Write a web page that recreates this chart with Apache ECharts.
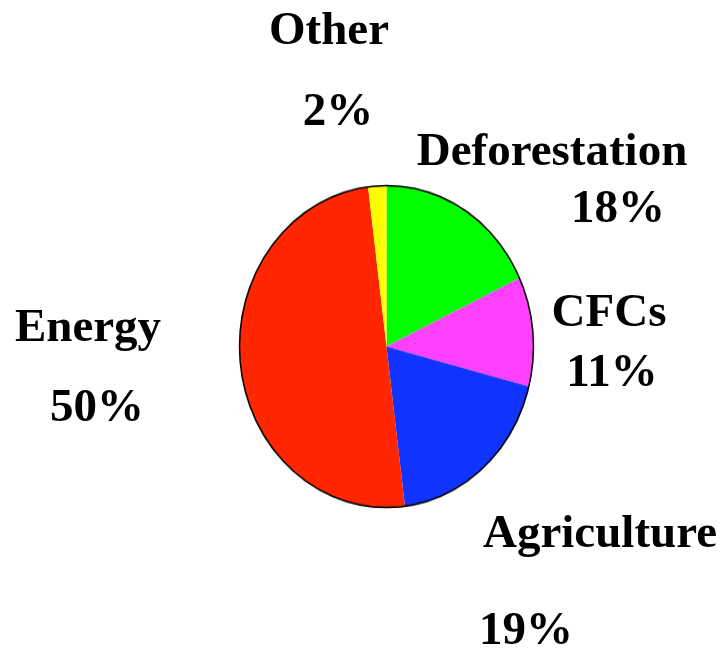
<!DOCTYPE html>
<html>
<head>
<meta charset="utf-8">
<script src="https://cdn.jsdelivr.net/npm/echarts@6/dist/echarts.min.js"></script>
<style>
  html, body { margin: 0; padding: 0; background: #fff; }
  #wrap { position: relative; width: 725px; height: 652px; overflow: hidden; }
  #pie { position: absolute; left: 0; top: 0; width: 725px; height: 652px;
         transform: scaleY(1.095); transform-origin: 386.5px 346.5px; }
  #txt { position: absolute; left: 0; top: 0; width: 725px; height: 652px; }
</style>
</head>
<body>
<div id="wrap">
  <div id="pie"></div>
  <div id="txt"></div>
</div>
<script>
// Data (clockwise from 12 o'clock)
const categories = ['Deforestation', 'CFCs', 'Agriculture', 'Energy', 'Other'];
const values = [18, 11, 19, 50, 2];
const colors = ['#00ff00', '#ff40ff', '#1133ff', '#ff2600', '#ffff00'];

// Label layout (screen centres of name line and percent line), per category
const labelLayout = [
  { name: [552, 153], pct: [618, 210] },
  { name: [609, 314], pct: [612, 374] },
  { name: [600, 535], pct: [526, 632] },
  { name: [88, 329],  pct: [97, 409] },
  { name: [329, 32],  pct: [338, 113] }
];

const total = values.reduce((a, b) => a + b, 0);

const pieChart = echarts.init(document.getElementById('pie'), null, { renderer: 'canvas' });
pieChart.setOption({
  animation: false,
  backgroundColor: 'transparent',
  series: [
    {
      type: 'pie',
      center: [386.5, 346.5],
      radius: 147,
      startAngle: 90,
      clockwise: true,
      silent: true,
      label: { show: false },
      labelLine: { show: false },
      itemStyle: { borderWidth: 0 },
      data: categories.map((c, i) => ({ name: c, value: values[i], itemStyle: { color: colors[i] } }))
    },
    {
      type: 'pie',
      center: [386.5, 346.5],
      radius: 147,
      silent: true,
      z: 5,
      label: { show: false },
      labelLine: { show: false },
      itemStyle: { color: 'rgba(0,0,0,0)', borderColor: '#000', borderWidth: 1.5 },
      data: [{ name: 'outline', value: total }]
    }
  ]
});

const font = 'bold 47px "Liberation Serif", "Times New Roman", serif';
const elements = [];
categories.forEach((c, i) => {
  const L = labelLayout[i];
  elements.push({
    type: 'text', x: L.name[0], y: L.name[1],
    style: { text: c, font: font, fill: '#000', align: 'center', verticalAlign: 'middle' }
  });
  elements.push({
    type: 'text', x: L.pct[0], y: L.pct[1],
    style: { text: values[i] + '%', font: font, fill: '#000', align: 'center', verticalAlign: 'middle' }
  });
});

const txtChart = echarts.init(document.getElementById('txt'), null, { renderer: 'canvas' });
txtChart.setOption({
  animation: false,
  backgroundColor: 'transparent',
  graphic: { elements: elements }
});
</script>
</body>
</html>
